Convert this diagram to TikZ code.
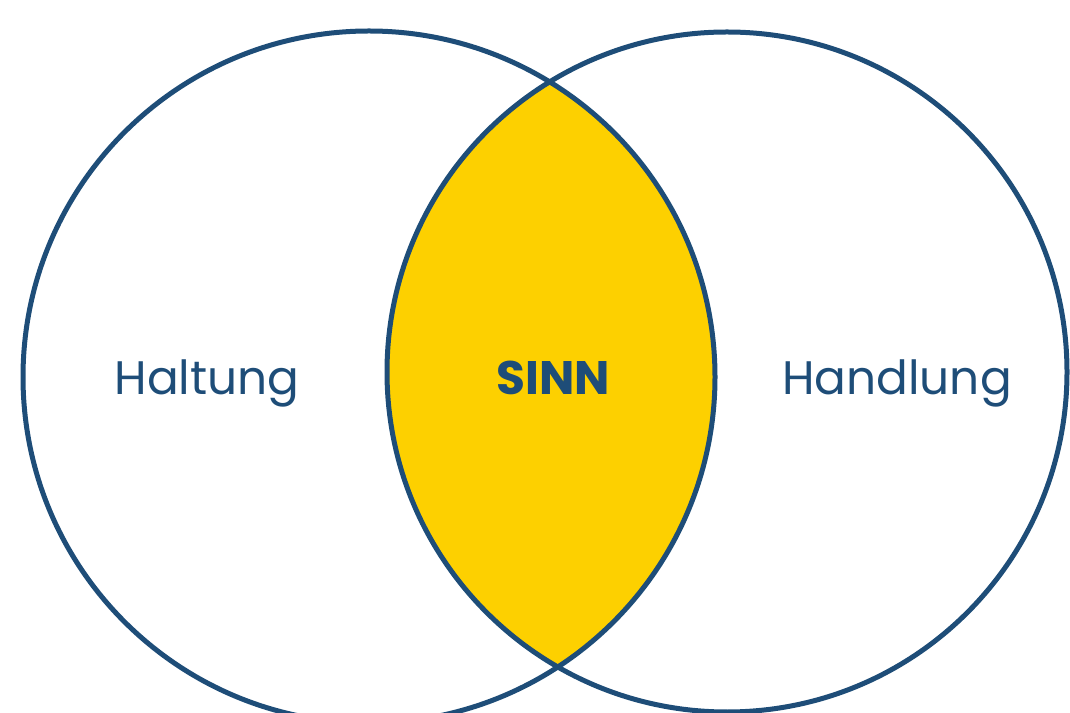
\documentclass[tikz,border=0pt]{standalone}
\usepackage{fontspec}
\setmainfont{Poppins}
\definecolor{venblue}{HTML}{1E4D78}
\definecolor{venyellow}{HTML}{FDD000}
\tikzset{
  ring/.style={draw=venblue, line width=5pt},
  label/.style={text=venblue, anchor=base, inner sep=0pt, font=\fontsize{47}{57}\selectfont},
  keyword/.style={label, font=\fontsize{47}{57}\selectfont\bfseries}
}
\begin{document}
\begin{tikzpicture}[x=1pt,y=1pt]
  \useasboundingbox (0,0) rectangle (1070,712);
  \coordinate (cl) at (369,335);
  \coordinate (cr) at (727,340);
  % overlap of the two circles
  \begin{scope}
    \clip (cl) circle[radius=346];
    \fill[venyellow] (cr) circle[radius=340];
  \end{scope}
  \draw[ring] (cl) circle[radius=346];
  \draw[ring] (cr) circle[radius=340];
  \node[label] (haltung) at (207,317) {Haltung};
  \node[keyword] (sinn) at (553,317) {SINN};
  \node[label] (handlung) at (897,317) {Handlung};
\end{tikzpicture}
\end{document}
